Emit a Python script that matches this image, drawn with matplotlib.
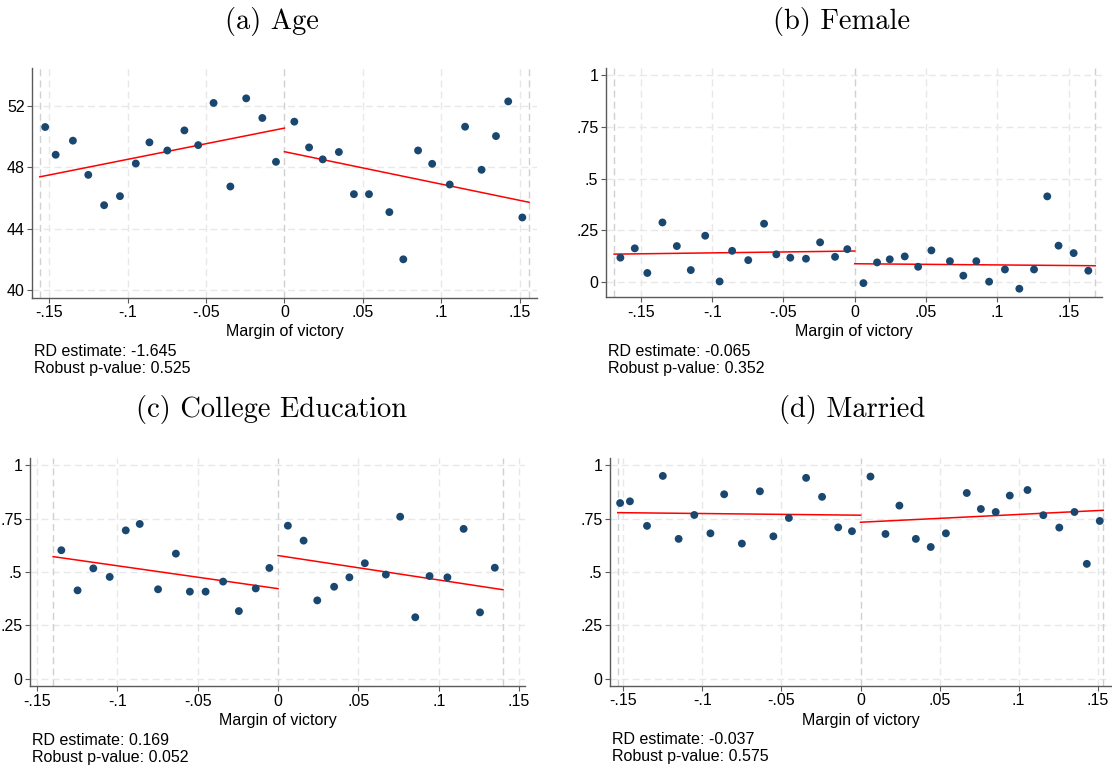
import matplotlib
matplotlib.use("Agg")
import matplotlib.pyplot as plt

W, H = 1112, 770

# ---------------- data: binned means (x = margin of victory) ----------------
age_x = [-0.1526, -0.1459, -0.1349, -0.1251, -0.1150, -0.1049, -0.0948, -0.0861,
         -0.0747, -0.0638, -0.0550, -0.0452, -0.0345, -0.0244, -0.0141, -0.0054,
         0.0063, 0.0157, 0.0244, 0.0347, 0.0443, 0.0539, 0.0669, 0.0758,
         0.0852, 0.0942, 0.1054, 0.1152, 0.1257, 0.1349, 0.1427, 0.1517]
age_y = [50.63, 48.82, 49.74, 47.51, 45.53, 46.12, 48.25, 49.63,
         49.10, 50.41, 49.45, 52.20, 46.75, 52.50, 51.22, 48.36,
         50.98, 49.30, 48.52, 49.00, 46.25, 46.25, 45.08, 42.00,
         49.10, 48.23, 46.88, 50.65, 47.84, 50.04, 52.30, 44.73]

female_x = [-0.1644, -0.1543, -0.1455, -0.1349, -0.1248, -0.1150, -0.1049, -0.0948,
            -0.0860, -0.0747, -0.0636, -0.0550, -0.0452, -0.0342, -0.0243, -0.0138,
            -0.0052,
            0.0061, 0.0157, 0.0246, 0.0351, 0.0445, 0.0538, 0.0668, 0.0762,
            0.0853, 0.0943, 0.1054, 0.1155, 0.1258, 0.1351, 0.1430, 0.1536, 0.1639]
female_y = [0.118, 0.163, 0.044, 0.288, 0.174, 0.058, 0.224, 0.003,
            0.151, 0.106, 0.282, 0.134, 0.118, 0.113, 0.192, 0.122,
            0.159,
            -0.005, 0.095, 0.110, 0.124, 0.074, 0.153, 0.101, 0.031,
            0.101, 0.002, 0.061, -0.032, 0.061, 0.414, 0.176, 0.140, 0.055]

college_x = [-0.1349, -0.1248, -0.1150, -0.1048, -0.0948, -0.0861, -0.0747, -0.0636,
             -0.0549, -0.0451, -0.0342, -0.0244, -0.0139, -0.0054,
             0.0061, 0.0159, 0.0244, 0.0349, 0.0444, 0.0540, 0.0671, 0.0760,
             0.0854, 0.0943, 0.1054, 0.1155, 0.1257, 0.1349]
college_y = [0.602, 0.414, 0.517, 0.477, 0.695, 0.725, 0.419, 0.586,
             0.408, 0.408, 0.455, 0.317, 0.423, 0.519,
             0.717, 0.647, 0.367, 0.431, 0.475, 0.541, 0.488, 0.759,
             0.288, 0.481, 0.475, 0.702, 0.311, 0.520]

married_x = [-0.1520, -0.1458, -0.1350, -0.1250, -0.1150, -0.1051, -0.0949, -0.0862,
             -0.0750, -0.0636, -0.0551, -0.0453, -0.0344, -0.0243, -0.0141, -0.0054,
             0.0063, 0.0158, 0.0246, 0.0350, 0.0444, 0.0540, 0.0672, 0.0761,
             0.0855, 0.0944, 0.1056, 0.1156, 0.1257, 0.1353, 0.1431, 0.1513]
married_y = [0.823, 0.831, 0.716, 0.950, 0.655, 0.767, 0.681, 0.864,
             0.633, 0.878, 0.667, 0.753, 0.941, 0.852, 0.709, 0.691,
             0.947, 0.678, 0.811, 0.655, 0.617, 0.681, 0.870, 0.795,
             0.781, 0.858, 0.884, 0.766, 0.708, 0.781, 0.538, 0.739]

# bandwidths and fitted values (left: at -h and 0; right: at 0 and +h)
bandwidths = [0.156, 0.1688, 0.140, 0.1535]
fit_left = [(47.38, 50.56), (0.135, 0.150), (0.572, 0.422), (0.778, 0.766)]
fit_right = [(49.02, 45.72), (0.0886, 0.079), (0.577, 0.417), (0.733, 0.789)]

titles = ["(a) Age", "(b) Female", "(c) College Education", "(d) Married"]
rd_estimates = ["-1.645", "-0.065", "0.169", "-0.037"]
p_values = ["0.525", "0.352", "0.052", "0.575"]

x_ticks = [-0.15, -0.1, -0.05, 0, 0.05, 0.1, 0.15]
x_ticklabels = ["-.15", "-.1", "-.05", "0", ".05", ".1", ".15"]
share_ticks = [0, 0.25, 0.5, 0.75, 1]
share_ticklabels = ["0", ".25", ".5", ".75", "1"]
age_ticks = [40, 44, 48, 52]
age_ticklabels = ["40", "44", "48", "52"]

# ---------------- styling ----------------
NAVY = "#1a476f"
RED = "#ff0000"
GRID = "#e8e8e8"
CUT = "#d0d0d0"
AXIS = "#5a5a5a"
SANS = ["Liberation Sans", "DejaVu Sans"]
FS = 11.5

plt.rcParams["font.family"] = SANS

fig = plt.figure(figsize=(W / 100, H / 100), dpi=100)

# axes boxes in pixels: left, right, top, bottom
boxes = [(32.3, 536.6, 68, 297.5),
         (606, 1102, 68, 297),
         (30, 525, 458, 686),
         (610, 1111, 458, 685.5)]
xlims = [(-0.1608, 0.1608), (-0.1745, 0.1735), (-0.1544, 0.1537), (-0.1584, 0.1584)]
ylims = [(39.51, 54.48), (-0.072, 1.034), (-0.034, 1.034), (-0.032, 1.034)]
title_pos = [(272, 22), (842, 22), (271, 410), (852, 410)]

panels = [(age_x, age_y, age_ticks, age_ticklabels),
          (female_x, female_y, share_ticks, share_ticklabels),
          (college_x, college_y, share_ticks, share_ticklabels),
          (married_x, married_y, share_ticks, share_ticklabels)]


def fx(px):
    return px / W


def fy(py):
    return 1 - py / H


for i, (xs, ys, yt, ytl) in enumerate(panels):
    l, r, t, b = boxes[i]
    ax = fig.add_axes([fx(l), fy(b), (r - l) / W, (b - t) / H])
    ax.set_xlim(*xlims[i])
    ax.set_ylim(*ylims[i])

    # grid at ticks
    for xv in x_ticks:
        if xv != 0:
            ax.axvline(xv, color=GRID, lw=1.0, ls=(0, (5, 3)), zorder=0)
    for yv in yt:
        ax.axhline(yv, color=GRID, lw=1.0, ls=(0, (5, 3)), zorder=0)
    # cutoff and bandwidth markers
    h = bandwidths[i]
    for xv in (-h, 0, h):
        ax.axvline(xv, color=CUT, lw=1.0, ls=(0, (5, 3)), zorder=0.5)

    ax.scatter(xs, ys, s=32, color=NAVY, edgecolors="none", zorder=3)
    ax.plot([-h, 0], fit_left[i], color=RED, lw=1.1, zorder=2)
    ax.plot([0, h], fit_right[i], color=RED, lw=1.1, zorder=2)

    ax.set_xticks(x_ticks)
    ax.set_xticklabels(x_ticklabels)
    ax.set_yticks(yt)
    ax.set_yticklabels(ytl)
    ax.tick_params(axis="both", direction="out", length=3.5, width=0.8,
                   color=AXIS, labelsize=FS, pad=2.0, labelcolor="black")
    for side in ("top", "right"):
        ax.spines[side].set_visible(False)
    for side in ("left", "bottom"):
        ax.spines[side].set_color(AXIS)
        ax.spines[side].set_linewidth(1.0)

    # axis label and estimate notes
    fig.text(fx((l + r) / 2), fy(b + 34.5), "Margin of victory",
             ha="center", va="center", fontsize=FS)
    fig.text(fx(l + 1.5), fy(b + 54.5), f"RD estimate: {rd_estimates[i]}",
             ha="left", va="center", fontsize=FS)
    fig.text(fx(l + 1.5), fy(b + 71.5), f"Robust p-value: {p_values[i]}",
             ha="left", va="center", fontsize=FS)

    tx, ty = title_pos[i]
    fig.text(fx(tx), fy(ty), titles[i], ha="center", va="center",
             fontsize=20.5, family="cmr10")

fig.savefig("out.png", dpi=100, facecolor="white")
